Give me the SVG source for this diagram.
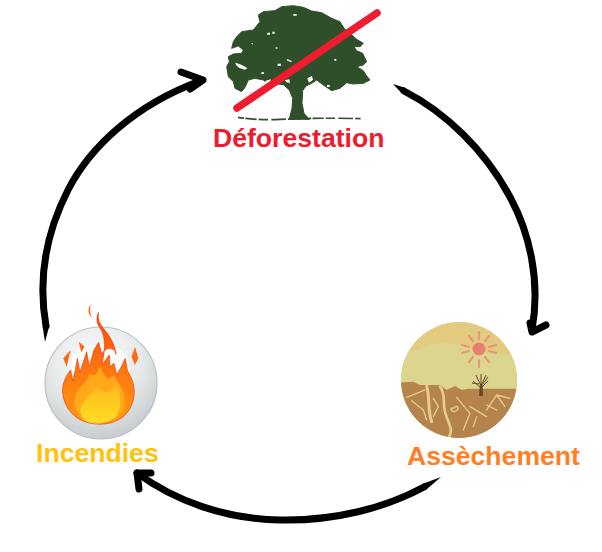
<svg xmlns="http://www.w3.org/2000/svg" width="602" height="552" viewBox="0 0 602 552">
<style>
text{font-family:"Liberation Sans",Arial,sans-serif;font-weight:700;font-size:26.6px}
.arr{fill:none;stroke:#000;stroke-width:7;stroke-linecap:round;stroke-linejoin:round}
.tip{fill:#000}
.crack{fill:none;stroke:#e6cd8c;stroke-linecap:round;stroke-linejoin:round}
.ray{stroke:#e8967a;stroke-width:2.2;stroke-linecap:round}
.speck{fill:#fff}
</style>
<defs>
<radialGradient id="badge" cx="45%" cy="30%" r="75%"><stop offset="0" stop-color="#fbfcfc"/><stop offset=".55" stop-color="#e6e9ea"/><stop offset="1" stop-color="#c2c7c9"/></radialGradient>
<linearGradient id="fire" x1="0" y1="0" x2="0" y2="1"><stop offset="0" stop-color="#ff4a0a"/><stop offset=".55" stop-color="#ff7a10"/><stop offset="1" stop-color="#ff9a12"/></linearGradient>
<linearGradient id="core" x1="0" y1="0" x2="0" y2="1"><stop offset="0" stop-color="#ffb820"/><stop offset=".6" stop-color="#ffcf20"/><stop offset="1" stop-color="#ffdc28"/></linearGradient>
<clipPath id="dry"><circle cx="459" cy="380" r="58"/></clipPath>
</defs>
<rect width="602" height="552" fill="#fff"/>
<g id="connectors">
<path class="arr" d="M404 91C445 112 485 150 510 197C529 232 541 280 532 330"/>
<path class="tip" d="M393 84L405.6 87.9L402.4 94.1Z"/>
<path class="arr" d="M530 323L532 332L546 325"/>
<path class="arr" d="M424 487C385 508 335 521 280 520C225 519 175 501 137 473"/>
<path class="tip" d="M441 477L425.8 490L422.2 484Z"/>
<path class="arr" d="M151 473L137 473L139 489"/>
<path class="arr" d="M46 326C38 280 45 235 68 190C90 147 135 105 200 81"/>
<path class="tip" d="M45 342L42.5 326L49.5 325Z"/>
<path class="arr" d="M181 72L203 80L190 89"/>
</g>
<g id="deforestation">
<g transform="translate(200 0) scale(.3333)">
<path fill="#2f4f2a" stroke="#2f4f2a" stroke-width="3" stroke-linejoin="round" d="M175 45L190 35L225 32L245 20L280 17L310 22L335 33L365 38L395 55L420 65L432 85L450 100L470 118L490 130L480 140L462 140L470 152L488 160L500 185L490 195L470 200L490 212L498 225L510 240L490 250L460 252L440 248L420 265L395 272L370 255L350 240L335 250L318 258L308 272L306 310L312 340L328 358L268 358L276 325L278 295L268 270L250 254L235 252L215 262L190 240L165 235L145 240L135 262L125 275L105 265L100 245L85 230L80 200L88 185L85 170L100 162L125 160L130 150L115 138L95 145L100 125L110 110L125 95L160 90L180 65Z"/>
<path class="speck" d="M280 42h10v5h-10zM202 98h8v6h-8zM217 95h7v6h-7zM155 129h4v4h-4zM227 142h5v4h-5zM260 177l14 5 2 5-14-5zM233 191l10 0 0 6-10 1zM403 177h6v5h-6zM184 217h8v5h-8zM106 188l18 6 18 10-6 5-18-5-10-9zM322 235l14-7 3 11-12 9zM197 242l16-4-4 12-13-1zM254 241l14-3 2 11-10-2zM381 255h8v6h-8z"/>
<path fill="none" stroke="#2f4f2a" stroke-width="5" stroke-dasharray="18 4 34 6 28 10 44 6 22 6 10 14" d="M114 352Q180 362 240 358L340 355Q410 354 482 356"/>
</g>
<line x1="237" y1="108" x2="377" y2="13" stroke="#ee1c2e" stroke-width="7.5" stroke-linecap="round"/>
<text x="213" y="147" fill="#ed1c2e">Déforestation</text>
</g>
<g id="assechement">
<g clip-path="url(#dry)">
<rect x="400" y="320" width="120" height="120" fill="#e2ca7e"/>
<path fill="#dcd58e" d="M400 352L420 349L432 344L450 343L470 347L485 352L500 354L520 356V395H400Z"/>
<g transform="translate(390 310) scale(.3333)">
<path fill="#b5834c" d="M30 218L70 215L90 225L150 225L170 240L195 228L215 240L235 236H385V390H30Z"/>
<g class="crack">
<path stroke-width="9" d="M110 228C120 260 112 300 125 335"/>
<path stroke-width="8" d="M150 230C170 255 155 285 168 315C175 340 190 355 178 380"/>
<path stroke-width="4" d="M50 262L105 240M65 272L100 300L110 330M130 265L145 290L130 320M200 262L240 310L220 360M240 290L290 320M260 320L250 350M290 300L320 255L360 265M320 255L345 290M290 285L320 300M190 295C205 280 210 300 195 305C180 305 180 290 190 295"/>
</g>
</g>
</g>
<circle cx="479" cy="349" r="6.5" fill="#e9806f"/>
<path class="ray" d="M479 332v7M479 360v7M462 353l7-2M489 347l7-2M462 345l7 2M489 351l7 2M469 336l4 5M485 357l4 5M489 336l-4 5M473 357l-4 5"/>
<path fill="none" stroke="#6b4526" stroke-width="1" d="M481 388L473 381M481 388L488 381M481 386L476 375M481 386L486 375M481 384V374M479 384L472 383M483 384L488 377"/>
<path fill="#6b4526" d="M480 384H482.5L483 396H479Z"/>
<text x="407" y="465" fill="#ff7f27">Assèchement</text>
</g>
<g id="incendies">
<circle cx="101" cy="383" r="56" fill="url(#badge)" stroke="#b9c0c2" stroke-width="1.2"/>
<g transform="translate(20 295) scale(.3333)">
<path fill="#fff" d="M150 240L160 175L200 150L210 180L235 150L270 140L320 180L330 230L250 240Z" opacity=".9"/>
<path fill="url(#fire)" stroke="#f4320c" stroke-width="2" d="M236 52C226 72 232 90 242 102C250 115 256 135 252 175L246 210L268 180L270 215L282 205L290 240L304 215L316 190L322 225L332 245C350 280 345 325 320 355C295 385 245 395 200 382C160 370 130 335 128 290C127 262 140 240 152 225L158 258L166 225L172 190L180 232L200 170L208 215L222 165L236 142L246 180C255 150 290 160 288 178C284 145 268 122 250 100C238 85 232 70 236 52Z"/>
<path fill="#ff6a10" d="M212 28C203 40 203 55 215 68C210 55 209 42 212 28ZM176 140L194 155L184 172ZM130 190L152 165L140 215ZM345 155L355 190L345 210L335 185Z"/>
<path fill="#ffa81a" d="M170 290C190 265 205 260 208 235C225 250 232 235 238 215C255 240 262 265 280 240C298 270 322 285 312 345C285 385 225 392 190 375C165 350 158 315 170 290Z"/>
<path fill="url(#core)" d="M178 345C190 320 205 300 235 275C250 300 270 295 292 270C305 305 305 340 288 365C260 388 215 392 192 375Z"/>
</g>
<text x="36" y="462" fill="#ffc20e">Incendies</text>
</g>
</svg>
